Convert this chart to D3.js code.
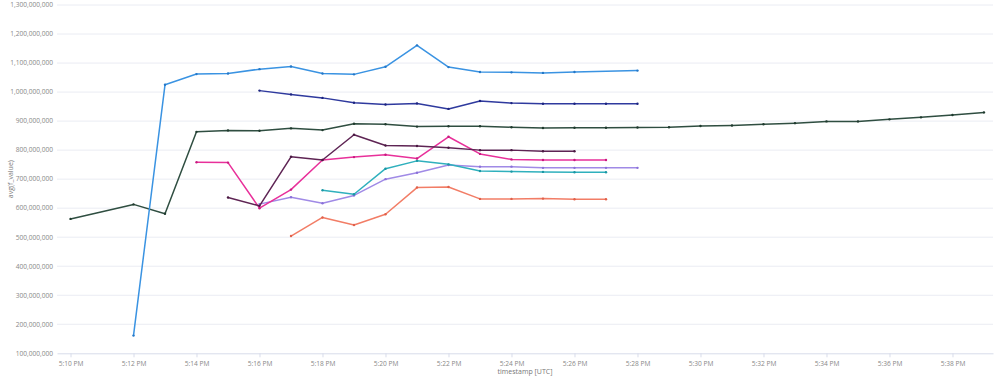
<!DOCTYPE html>
<html>
<head>
<meta charset="utf-8">
<script src="https://cdn.jsdelivr.net/npm/d3@7"></script>
<style>
  html, body { margin: 0; padding: 0; background: #fff; }
  svg { display: block; }
  text { font-family: "Open Sans", "Noto Sans", sans-serif; }
</style>
</head>
<body>
<svg id="chart" width="998" height="379"></svg>
<script>
// ---- data (values in millions, timestamps are minutes of the 17:xx hour UTC) ----
const minutes = [10,11,12,13,14,15,16,17,18,19,20,21,22,23,24,25,26,27,28,29,30,31,32,33,34,35,36,37,38,39];
const yTicks = [100,200,300,400,500,600,700,800,900,1000,1100,1200,1300];
const xTickMinutes = [10,12,14,16,18,20,22,24,26,28,30,32,34,36,38];

const seriesLightBlue = [null,null,161,1025,1062,1064,1079,1088,1064,1061,1087,1161,1086,1069,1068,1066,1069,null,1074];
const seriesNavy      = [null,null,null,null,null,null,1005,992,980,963,957,961,942,969,962,960,960,960,960];
const seriesDarkGreen = [563,null,613,581,863,868,867,875,869,891,889,881,882,882,879,876,877,877,878,879,883,885,889,893,899,899,906,913,921,930];
const seriesPlum      = [null,null,null,null,null,637,608,777,766,853,816,814,808,800,800,796,796];
const seriesPink      = [null,null,null,null,758,757,600,664,766,776,784,771,846,787,768,766,766,766];
const seriesTeal      = [null,null,null,null,null,null,null,null,662,648,736,763,751,728,726,725,724,724];
const seriesLavender  = [null,null,null,null,null,null,614,638,617,644,700,722,749,743,743,739,739,739,739];
const seriesSalmon    = [null,null,null,null,null,null,null,504,568,542,579,671,673,632,632,633,631,631];

const seriesList = [
  {values: seriesDarkGreen, color: "#2f4e41", dot: "#1f3a2e"},
  {values: seriesSalmon,    color: "#f27d66", dot: "#e0604a"},
  {values: seriesLavender,  color: "#a08ae6", dot: "#8a70d8"},
  {values: seriesTeal,      color: "#2fb0bd", dot: "#1a97a4"},
  {values: seriesPink,      color: "#e8309a", dot: "#c81a80"},
  {values: seriesPlum,      color: "#5e2454", dot: "#4a1842"},
  {values: seriesNavy,      color: "#2f3a9e", dot: "#1c2480"},
  {values: seriesLightBlue, color: "#3a93e2", dot: "#2478c8"}
];

// ---- layout ----
const plotLeft = 57, plotRight = 993, plotTop = 5, plotBottom = 353.3;
const svg = d3.select("#chart");

const base = new Date(Date.UTC(2024, 0, 1, 17, 0, 0));
const toDate = m => new Date(base.getTime() + m * 60000);

const x = d3.scaleTime()
  .domain([toDate(10 - 0.4286), toDate(39.286)])
  .range([plotLeft, plotRight]);
const y = d3.scaleLinear().domain([100, 1300]).range([plotBottom, plotTop]);

// gridlines
svg.append("g").selectAll("line").data(yTicks.slice(1)).join("line")
  .attr("x1", plotLeft).attr("x2", plotRight)
  .attr("y1", d => y(d)).attr("y2", d => y(d))
  .attr("stroke", "#eaecf3").attr("stroke-width", 1);

// y labels
svg.append("g").selectAll("text").data(yTicks).join("text")
  .attr("x", plotLeft - 4).attr("y", d => y(d))
  .attr("dy", "0.35em").attr("text-anchor", "end")
  .attr("font-size", 6.6).attr("fill", "#888")
  .text(d => d3.format(",")(d * 1e6));

// x axis
const fmt = d3.utcFormat("%-I:%M %p");
const xAxis = d3.axisBottom(x)
  .tickValues(xTickMinutes.map(m => toDate(m)))
  .tickFormat(d => fmt(d))
  .tickSize(4).tickSizeOuter(0);
const gx = svg.append("g").attr("transform", `translate(0,${plotBottom})`).call(xAxis);
gx.select(".domain").attr("stroke", "#d8dcea");
gx.selectAll(".tick line").attr("stroke", "#d8dcea");
gx.selectAll(".tick text").attr("font-size", 6.6).attr("fill", "#888")
  .attr("font-family", "'Open Sans', 'Noto Sans', sans-serif").attr("dy", "0.9em");

// axis titles
svg.append("text").attr("x", (plotLeft + plotRight) / 2).attr("y", 374)
  .attr("text-anchor", "middle").attr("font-size", 7).attr("fill", "#777")
  .text("timestamp [UTC]");
svg.append("text").attr("transform", `translate(13,${(plotTop + plotBottom) / 2}) rotate(-90)`)
  .attr("text-anchor", "middle").attr("font-size", 7).attr("fill", "#777")
  .text("avg(f_value)");

// lines
const line = d3.line().x(d => x(toDate(d.m))).y(d => y(d.v));
seriesList.forEach(s => {
  const pts = s.values.map((v, i) => ({m: minutes[i], v})).filter(d => d.v !== null);
  const g = svg.append("g");
  g.append("path").datum(pts).attr("d", line)
    .attr("fill", "none").attr("stroke", s.color).attr("stroke-width", 1.5)
    .attr("stroke-linejoin", "round");
  g.selectAll("circle").data(pts).join("circle")
    .attr("cx", d => x(toDate(d.m))).attr("cy", d => y(d.v))
    .attr("r", 1.2).attr("fill", s.dot);
});
</script>
</body>
</html>
